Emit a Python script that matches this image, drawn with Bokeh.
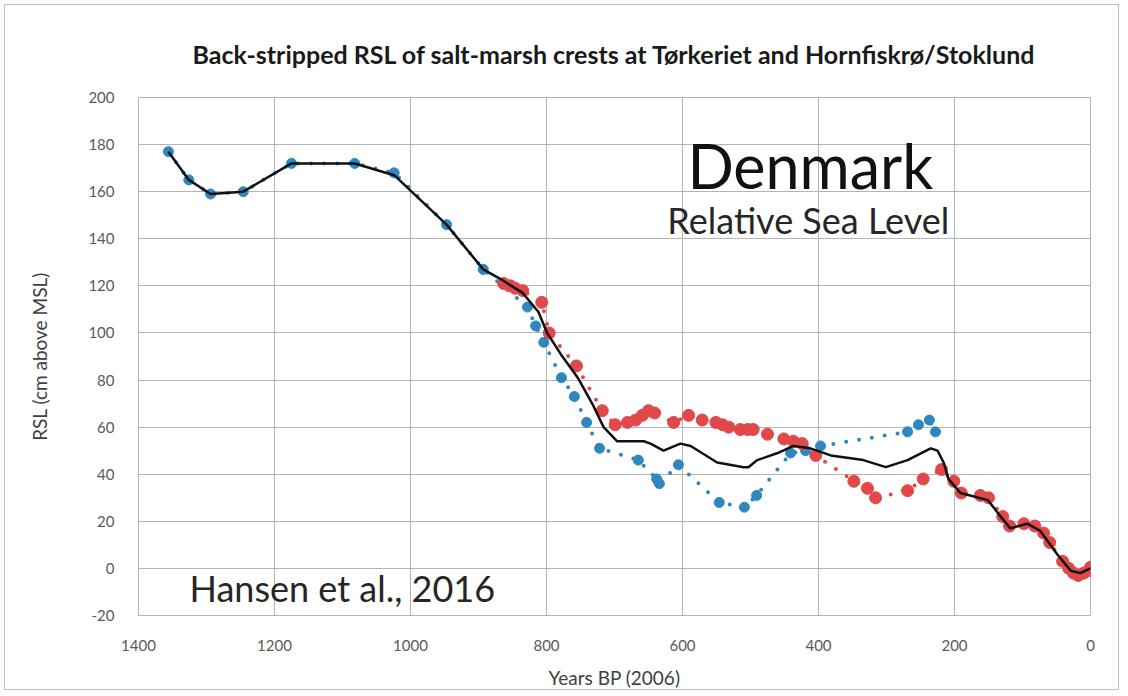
from bokeh.plotting import figure
from bokeh.models import Range1d, FixedTicker, Label, PrintfTickFormatter
from bokeh.embed import file_html
from bokeh.resources import INLINE

# Tørkeriet (blue)
blue_years = [1356, 1326, 1294, 1246, 1175, 1082, 1024, 947, 893, 828, 816, 804, 778, 759,
              741, 722, 665, 638, 634, 606, 546, 509, 491, 441, 419, 397, 269, 253, 237, 228]
blue_rsl = [177, 165, 159, 160, 172, 172, 168, 146, 127, 111, 103, 96, 81, 73,
            62, 51, 46, 38, 36, 44, 28, 26, 31, 49, 50, 52, 58, 61, 63, 58]

# Hornfiskrø/Stoklund (red)
red_years = [863, 853, 846, 835, 807, 796, 756, 718, 699, 681, 669, 659, 650, 641, 613, 591,
             571, 551, 541, 532, 515, 504, 496, 475, 451, 437, 424, 404, 348, 328, 316, 269,
             246, 219, 201, 190, 162, 150, 129, 119, 98, 82, 69, 60, 41, 32, 25, 18, 10, 3, 0]
red_rsl = [121, 120, 119, 118, 113, 100, 86, 67, 61, 62, 63, 65, 67, 66, 62, 65,
           63, 62, 61, 60, 59, 59, 59, 57, 55, 54, 53, 48, 37, 34, 30, 33,
           38, 42, 37, 32, 31, 30, 22, 18, 19, 18, 15, 11, 3, 0, -2, -3, -2, -1, 0.5]

# combined curve (black)
mean_years = [1356, 1326, 1294, 1246, 1175, 1082, 1024, 947, 893, 868, 835, 812, 799, 779,
              754, 731, 716, 696, 657, 647, 628, 603, 588, 549, 510, 503, 490, 460, 437,
              412, 382, 334, 301, 269, 235, 225, 216, 209, 191, 151, 132, 118, 93, 74, 49,
              29, 15, 0]
mean_rsl = [177, 165, 159, 160, 172, 172, 167, 146, 127, 123, 117, 109, 100, 91,
            81, 69, 60, 54, 54, 53, 50, 53, 52, 45, 43, 43, 46, 49, 52,
            51, 48, 46, 43, 46, 51, 50, 45, 38, 32, 29, 22, 17, 19, 16, 6,
            -1, -2, 0]

x_ticks = [1400, 1200, 1000, 800, 600, 400, 200, 0]
y_ticks = [-20, 0, 20, 40, 60, 80, 100, 120, 140, 160, 180, 200]

title_text = "Back-stripped RSL of salt-marsh crests at Tørkeriet and Hornfiskrø/Stoklund"
FONT = "Lato"
BLUE = "#2f87c0"
RED = "#e0484a"

p = figure(width=1115, height=686, output_backend="svg", toolbar_location=None,
           x_range=Range1d(1400, 0), y_range=Range1d(-20, 200),
           min_border_left=133, min_border_right=30, min_border_top=92, min_border_bottom=73,
           title=title_text)
p.styles = {"border": "1px solid #bdbdbd", "margin": "4px"}

p.title.align = "center"
p.title.text_font = FONT
p.title.text_font_size = "25px"
p.title.text_font_style = "bold"
p.title.text_color = "#1a1a1a"
p.title.standoff = 57

p.outline_line_color = "#b4b4b4"
for ax in (p.xaxis[0], p.yaxis[0]):
    ax.axis_line_color = None
    ax.major_tick_line_color = None
    ax.minor_tick_line_color = None
    ax.major_label_text_font = FONT
    ax.major_label_text_font_size = "15px"
    ax.major_label_text_color = "#595959"
    ax.axis_label_text_font = FONT
    ax.axis_label_text_font_size = "19px"
    ax.axis_label_text_font_style = "normal"
    ax.axis_label_text_color = "#404040"
    ax.formatter = PrintfTickFormatter(format="%d")

p.xaxis.ticker = FixedTicker(ticks=x_ticks)
p.yaxis.ticker = FixedTicker(ticks=y_ticks)
p.xaxis.axis_label = "Years BP (2006)"
p.yaxis.axis_label = "RSL (cm above MSL)"
p.xaxis.major_label_standoff = 18
p.yaxis.major_label_standoff = 18
p.xaxis.axis_label_standoff = 12
p.yaxis.axis_label_standoff = 34

p.xgrid.ticker = FixedTicker(ticks=x_ticks)
p.ygrid.ticker = FixedTicker(ticks=y_ticks)
p.xgrid.grid_line_color = "#b4b4b4"
p.ygrid.grid_line_color = "#b4b4b4"
p.xgrid.grid_line_width = 1
p.ygrid.grid_line_width = 1

# dotted connectors
p.line(blue_years, blue_rsl, line_color=BLUE, line_width=4, line_dash="0 13", line_cap="round")
p.line(red_years, red_rsl, line_color=RED, line_width=4, line_dash="0 13", line_cap="round")

p.scatter(blue_years, blue_rsl, size=10, fill_color=BLUE, line_color=BLUE)
p.scatter(red_years, red_rsl, size=12, fill_color=RED, line_color=RED)

p.line(mean_years, mean_rsl, line_color="#111111", line_width=2.5)

p.add_layout(Label(x=412, y=171, text="Denmark", text_font=FONT, text_font_size="61px",
                   text_align="center", text_baseline="middle", text_color="#111111"))
p.add_layout(Label(x=415, y=148, text="Relative Sea Level", text_font=FONT,
                   text_font_size="36px", text_align="center", text_baseline="middle",
                   text_color="#262626"))
p.add_layout(Label(x=1325, y=-8.5, text="Hansen et al., 2016", text_font=FONT,
                   text_font_size="36px", text_align="left", text_baseline="middle",
                   text_color="#262626"))

open("out.html", "w").write(file_html(p, INLINE))
